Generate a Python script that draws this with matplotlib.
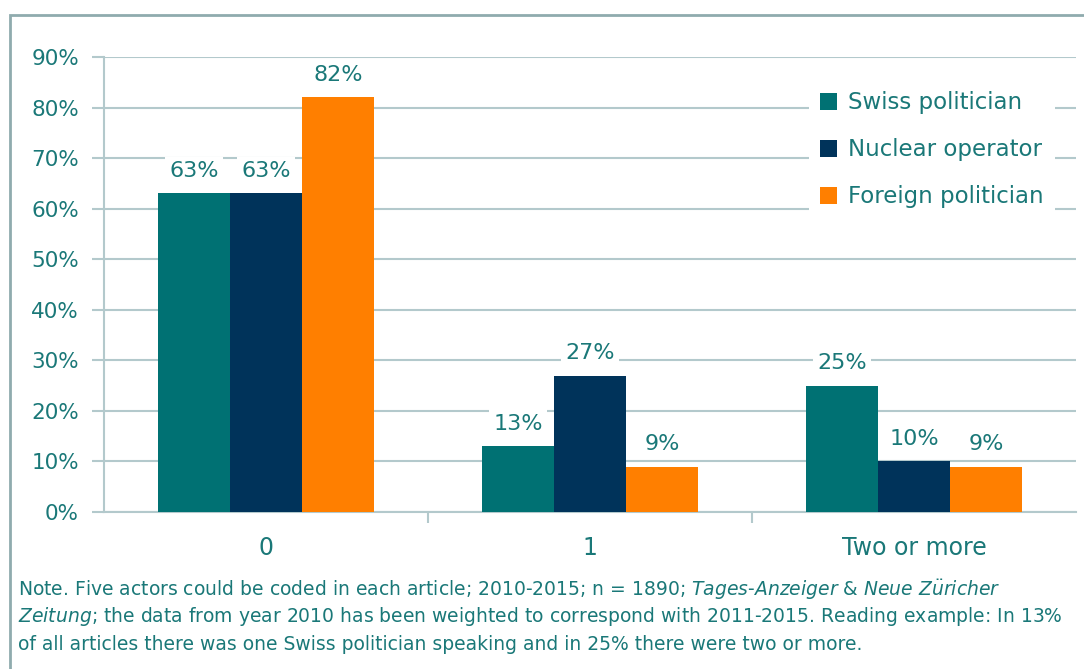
import numpy as np
import matplotlib.pyplot as plt
from matplotlib.patches import Rectangle

categories = ['0', '1', 'Two or more']
series_names = ['Swiss politician', 'Nuclear operator', 'Foreign politician']
swiss = [0.63, 0.13, 0.25]
nuclear = [0.63, 0.27, 0.10]
foreign = [0.82, 0.09, 0.09]
colors = ['#007173', '#00335a', '#ff7f00']
text_col = '#1a7878'
grid_col = '#b3c9cc'

plt.rcParams['font.family'] = ['DejaVu Sans']

fig = plt.figure(figsize=(10.84, 6.69), dpi=100)
ax = fig.add_axes([104 / 1084, 1 - 512 / 669, 972 / 1084, 455 / 669])

x = np.arange(len(categories))
w = 0.222
for i, (vals, name) in enumerate(zip([swiss, nuclear, foreign], series_names)):
    pos = x + (i - 1) * w
    ax.bar(pos, vals, width=w, color=colors[i], label=name, zorder=3)
    for xp, v in zip(pos, vals):
        ax.annotate(f'{v:.0%}', (xp, v), xytext=(0, 9), textcoords='offset points',
                    ha='center', va='bottom', fontsize=16, color=text_col, zorder=4,
                    bbox=dict(boxstyle='square,pad=0.2', fc='white', ec='none'))

ax.set_xlim(-0.5, 2.5)
ax.set_ylim(0, 0.9)
ax.set_yticks(np.arange(0, 0.91, 0.1))
ax.set_yticklabels([f'{t}%' for t in range(0, 91, 10)])
ax.yaxis.grid(True, color=grid_col, linewidth=1.5, zorder=0)
ax.set_axisbelow(True)
ax.tick_params(axis='y', length=9, color=grid_col, width=1.5, labelsize=15.5,
               labelcolor=text_col, pad=9)
ax.set_xticks([0.5, 1.5], minor=False)
ax.set_xticklabels([])
ax.set_xticks(x, minor=True)
ax.set_xticklabels(categories, minor=True)
ax.tick_params(axis='x', which='major', length=8, color=grid_col, width=1.5)
ax.tick_params(axis='x', which='minor', length=0, labelsize=17,
               labelcolor=text_col, pad=17)
for s in ['top', 'right']:
    ax.spines[s].set_visible(False)
for s in ['left', 'bottom']:
    ax.spines[s].set_color(grid_col)
    ax.spines[s].set_linewidth(1.5)

leg = ax.legend(loc='upper right', bbox_to_anchor=(0.99, 0.975), frameon=True,
                fontsize=16.5, handlelength=0.75, handleheight=0.75, handletextpad=0.45,
                labelspacing=1.05, borderpad=0.5)
leg.get_frame().set_facecolor('white')
leg.get_frame().set_edgecolor('none')
leg.get_frame().set_alpha(1)
for t in leg.get_texts():
    t.set_color(text_col)

# outer frame
fig.patches.append(Rectangle((10 / 1084, -0.05), 1.1, 1 - 15 / 669 + 0.05,
                             transform=fig.transFigure, fill=False,
                             edgecolor='#8fabae', linewidth=2))

note_size = 13.5
fig.text(18 / 1084, 1 - 590 / 669,
         'Note. Five actors could be coded in each article; 2010-2015; n = 1890; '
         r'$\it{Tages}$-$\it{Anzeiger}$ & $\it{Neue\ Z\"{u}richer}$',
         fontsize=note_size, color=text_col, va='center')
fig.text(18 / 1084, 1 - 617 / 669,
         r'$\it{Zeitung}$; the data from year 2010 has been weighted to correspond with 2011-2015. '
         'Reading example: In 13%',
         fontsize=note_size, color=text_col, va='center')
fig.text(18 / 1084, 1 - 645 / 669,
         'of all articles there was one Swiss politician speaking and in 25% there were two or more.',
         fontsize=note_size, color=text_col, va='center')

fig.savefig('out.png', dpi=100, facecolor='white')
